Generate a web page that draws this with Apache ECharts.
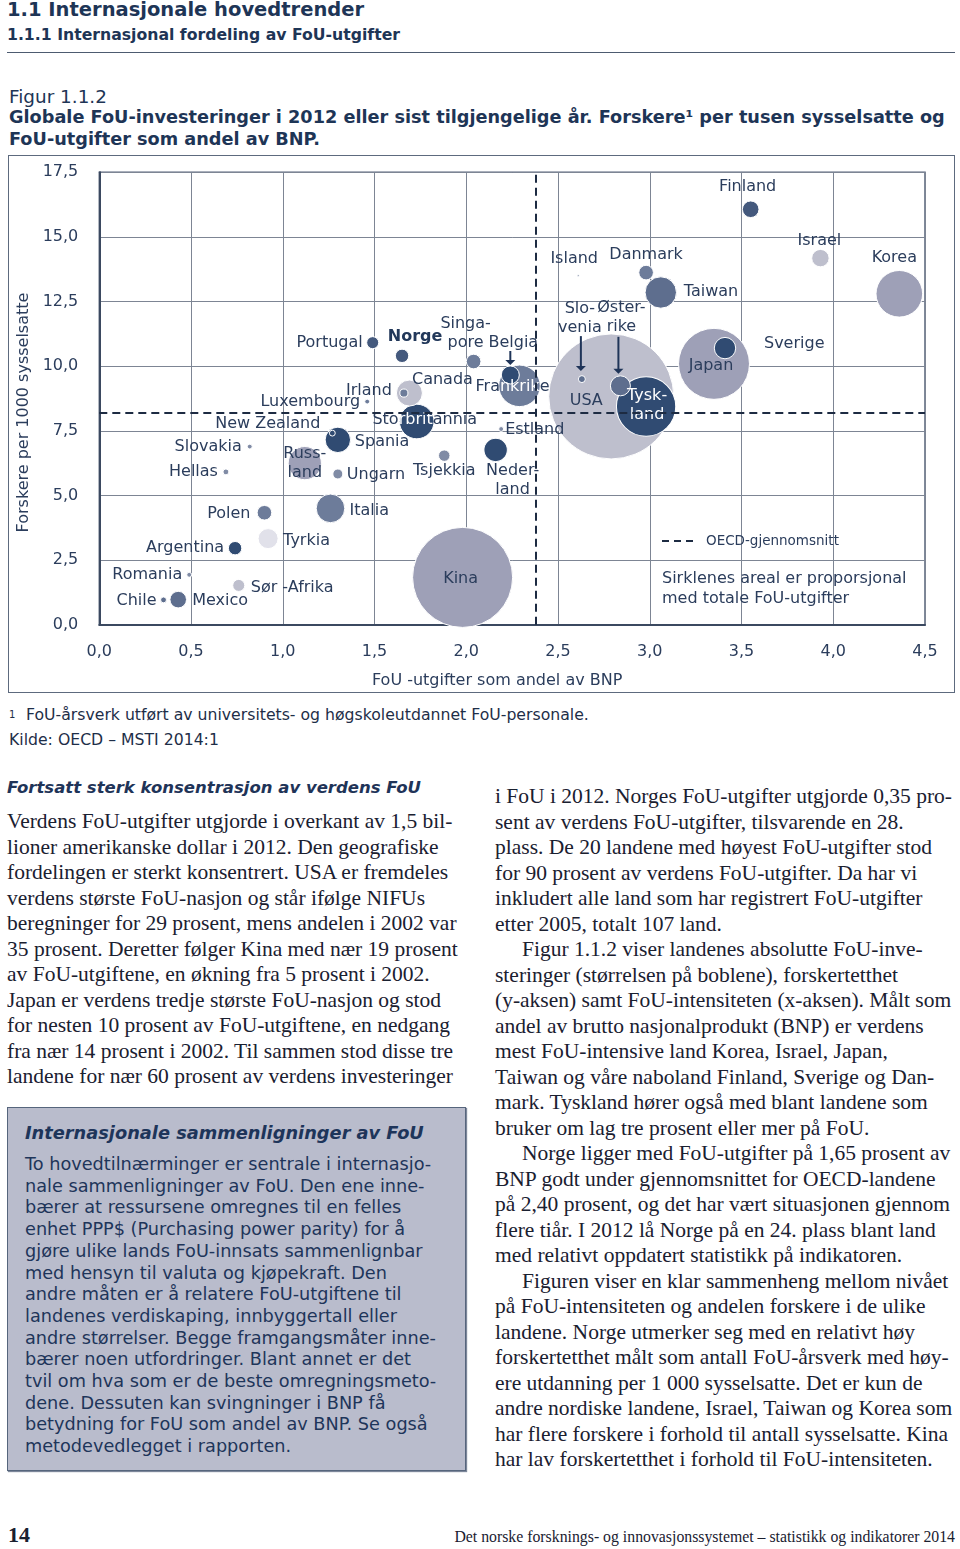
<!DOCTYPE html>
<html><head><meta charset="utf-8">
<script src="https://cdn.jsdelivr.net/npm/echarts@6/dist/echarts.min.js"></script>
<style>
html,body{margin:0;padding:0;background:#fff;}
body{width:960px;height:1549px;position:relative;overflow:hidden;}
.t{position:absolute;white-space:nowrap;}
.sans{font-family:"DejaVu Sans",sans-serif;}
.serif{font-family:"Liberation Serif",serif;}
.col div{white-space:nowrap;}
</style></head><body>

<div class="t sans" style="left:7px;top:-3px;font-weight:bold;font-size:19.5px;line-height:26px;color:#1e3556;">1.1 Internasjonale hovedtrender</div>
<div class="t sans" style="left:7px;top:24px;font-weight:bold;font-size:15.7px;line-height:22px;color:#1e3556;">1.1.1 Internasjonal fordeling av FoU-utgifter</div>
<div style="position:absolute;left:7px;top:52px;width:948px;height:0;border-top:1.5px solid #4d5b70;"></div>

<div class="t sans" style="left:9px;top:85px;font-size:18.4px;line-height:24px;color:#1e3556;">Figur 1.1.2</div>
<div class="t sans" style="left:9px;top:106px;font-weight:bold;font-size:17.7px;line-height:22px;color:#1e3556;">Globale FoU-investeringer i 2012 eller sist tilgjengelige år. Forskere¹ per tusen sysselsatte og<br>FoU-utgifter som andel av BNP.</div>

<div style="position:absolute;left:8px;top:155px;width:945px;height:536px;border:1.5px solid #5d6a7e;"></div>
<div id="chart" style="position:absolute;left:0;top:155px;width:960px;height:545px;"></div>

<div class="t sans" style="left:9px;top:704px;font-size:15.7px;line-height:22px;color:#1e2e48;"><span style="font-size:10px;vertical-align:5px;">1</span><span style="position:absolute;left:17px;">FoU-årsverk utført av universitets- og høgskoleutdannet FoU-personale.</span></div>
<div class="t sans" style="left:9px;top:729px;font-size:15.7px;line-height:22px;color:#1e2e48;">Kilde: OECD – MSTI 2014:1</div>

<div class="t sans" style="left:7px;top:776px;font-weight:bold;font-style:italic;font-size:16.5px;line-height:24px;color:#1f3458;">Fortsatt sterk konsentrasjon av verdens FoU</div>

<div class="t serif col" style="left:7px;top:809px;font-size:21.5px;line-height:25.5px;color:#1a2030;">
<div>Verdens FoU-utgifter utgjorde i overkant av 1,5 bil-</div>
<div>lioner amerikanske dollar i 2012. Den geografiske</div>
<div>fordelingen er sterkt konsentrert. USA er fremdeles</div>
<div>verdens største FoU-nasjon og står ifølge NIFUs</div>
<div>beregninger for 29 prosent, mens andelen i 2002 var</div>
<div>35 prosent. Deretter følger Kina med nær 19 prosent</div>
<div>av FoU-utgiftene, en økning fra 5 prosent i 2002.</div>
<div>Japan er verdens tredje største FoU-nasjon og stod</div>
<div>for nesten 10 prosent av FoU-utgiftene, en nedgang</div>
<div>fra nær 14 prosent i 2002. Til sammen stod disse tre</div>
<div>landene for nær 60 prosent av verdens investeringer</div>
</div>

<div style="position:absolute;left:7px;top:1107px;width:457px;height:362px;background:#b9bccc;border:1px solid #56657c;box-shadow:1px 1px 1px #7d879a;"></div>
<div class="t sans" style="left:25px;top:1121px;font-weight:bold;font-style:italic;font-size:17.8px;line-height:24px;color:#1e355a;">Internasjonale sammenligninger av FoU</div>
<div class="t sans col" style="left:25px;top:1154px;font-size:17.7px;line-height:21.7px;color:#1e355a;">
<div>To hovedtilnærminger er sentrale i internasjo-</div>
<div>nale sammenligninger av FoU. Den ene inne-</div>
<div>bærer at ressursene omregnes til en felles</div>
<div>enhet PPP$ (Purchasing power parity) for å</div>
<div>gjøre ulike lands FoU-innsats sammenlignbar</div>
<div>med hensyn til valuta og kjøpekraft. Den</div>
<div>andre måten er å relatere FoU-utgiftene til</div>
<div>landenes verdiskaping, innbyggertall eller</div>
<div>andre størrelser. Begge framgangsmåter inne-</div>
<div>bærer noen utfordringer. Blant annet er det</div>
<div>tvil om hva som er de beste omregningsmeto-</div>
<div>dene. Dessuten kan svingninger i BNP få</div>
<div>betydning for FoU som andel av BNP. Se også</div>
<div>metodevedlegget i rapporten.</div>
</div>

<div class="t serif col" style="left:495px;top:784px;font-size:21.5px;line-height:25.5px;color:#1a2030;">
<div>i FoU i 2012. Norges FoU-utgifter utgjorde 0,35 pro-</div>
<div>sent av verdens FoU-utgifter, tilsvarende en 28.</div>
<div>plass. De 20 landene med høyest FoU-utgifter stod</div>
<div>for 90 prosent av verdens FoU-utgifter. Da har vi</div>
<div>inkludert alle land som har registrert FoU-utgifter</div>
<div>etter 2005, totalt 107 land.</div>
<div style="padding-left:27px;">Figur 1.1.2 viser landenes absolutte FoU-inve-</div>
<div>steringer (størrelsen på boblene), forskertetthet</div>
<div>(y-aksen) samt FoU-intensiteten (x-aksen). Målt som</div>
<div>andel av brutto nasjonalprodukt (BNP) er verdens</div>
<div>mest FoU-intensive land Korea, Israel, Japan,</div>
<div>Taiwan og våre naboland Finland, Sverige og Dan-</div>
<div>mark. Tyskland hører også med blant landene som</div>
<div>bruker om lag tre prosent eller mer på FoU.</div>
<div style="padding-left:27px;">Norge ligger med FoU-utgifter på 1,65 prosent av</div>
<div>BNP godt under gjennomsnittet for OECD-landene</div>
<div>på 2,40 prosent, og det har vært situasjonen gjennom</div>
<div>flere tiår. I 2012 lå Norge på en 24. plass blant land</div>
<div>med relativt oppdatert statistikk på indikatoren.</div>
<div style="padding-left:27px;">Figuren viser en klar sammenheng mellom nivået</div>
<div>på FoU-intensiteten og andelen forskere i de ulike</div>
<div>landene. Norge utmerker seg med en relativt høy</div>
<div>forskertetthet målt som antall FoU-årsverk med høy-</div>
<div>ere utdanning per 1 000 sysselsatte. Det er kun de</div>
<div>andre nordiske landene, Israel, Taiwan og Korea som</div>
<div>har flere forskere i forhold til antall sysselsatte. Kina</div>
<div>har lav forskertetthet i forhold til FoU-intensiteten.</div>
</div>

<div class="t serif" style="left:8px;top:1520px;font-weight:bold;font-size:22px;line-height:30px;color:#1a2030;">14</div>
<div class="t serif" style="right:5px;top:1526px;font-size:15.8px;line-height:22px;color:#1a2030;">Det norske forsknings- og innovasjonssystemet – statistikk og indikatorer 2014</div>

<script>
// ---- Data ----
const countries = ['Finland','Israel','Korea','Island','Danmark','Taiwan','Slovenia','Østerrike','Sverige','Japan','USA','Tyskland','Portugal','Norge','Singapore','Belgia','Frankrike','Canada','Irland','Luxembourg','Storbritannia','New Zealand','Spania','Slovakia','Hellas','Russland','Ungarn','Tsjekkia','Estland','Nederland','Italia','Polen','Tyrkia','Argentina','Romania','Sør-Afrika','Chile','Mexico','Kina'];
// FoU-utgifter som andel av BNP (%)
const fouShareBNP = [3.55,3.93,4.36,2.61,2.98,3.06,2.63,2.84,3.41,3.35,2.79,2.98,1.49,1.65,2.04,2.24,2.29,1.69,1.66,1.46,1.73,1.27,1.30,0.82,0.69,1.12,1.30,1.88,2.19,2.16,1.26,0.90,0.92,0.74,0.49,0.76,0.35,0.43,1.98];
// Forskere per 1000 sysselsatte
const researchersPer1000 = [16.07,14.18,12.80,13.50,13.62,12.85,9.50,9.24,10.70,10.09,8.83,8.44,10.91,10.40,10.18,9.66,9.24,8.96,8.96,8.63,7.86,7.41,7.15,6.89,5.91,6.25,5.83,6.54,7.57,6.76,4.50,4.33,3.33,2.96,1.93,1.52,0.96,0.97,1.83];
// Totale FoU-utgifter (mrd. PPP$), bubble area
const fouSpendBn = [8.0,8.8,63,0.12,6.2,28.6,1.4,11.6,13.3,146,453,102,4.2,5.2,6.2,9.4,50,19.6,1.9,0.7,34.7,1.0,18.7,0.7,1.0,32,2.9,3.8,0.7,15.9,23.7,6.2,11.6,5.2,0.7,4.2,1.0,8.0,290];
// Label texts
const labelText = ['Finland','Israel','Korea','Island','Danmark','Taiwan','Slo-\nvenia','Øster-\nrike','Sverige','Japan','USA','Tysk-\nland','Portugal','Norge','Singa-\npore','Belgia','{d|Fra}{w|nkrik}{d|e}','Canada','Irland','Luxembourg','{d|Sto}{w|rbrit}{d|annia}','New Zealand','Spania','Slovakia','Hellas','Russ-\nland','Ungarn','Tsjekkia','Estland','Neder-\nland','Italia','Polen','Tyrkia','Argentina','Romania','Sør -Afrika','Chile','Mexico','Kina'];
const oecdAvgBNP = 2.38;
const oecdAvgResearchers = 8.18;
const xAxisTitle = 'FoU -utgifter som andel av BNP';
const yAxisTitle = 'Forskere per 1000 sysselsatte';
const legendLine = 'OECD-gjennomsnitt';
const noteLines = ['Sirklenes areal er proporsjonal', 'med totale FoU-utgifter'];

// ---- Styles (kept apart from the data) ----
const shades = {navy:'#304b72', dark:'#44597d', slate2:'#5e6e8e', slate:'#6d7c9a', steel:'#808ba5', gray:'#9ea0b7', light:'#bebfcd', pale:'#e1e1ea'};
const shadeOf = {'Finland':'dark','Israel':'light','Korea':'gray','Island':'slate','Danmark':'slate','Taiwan':'slate2','Slovenia':'slate2','Østerrike':'slate2','Sverige':'navy','Japan':'gray','USA':'light','Tyskland':'navy','Portugal':'dark','Norge':'dark','Singapore':'slate','Belgia':'navy','Frankrike':'slate','Canada':'light','Irland':'slate','Luxembourg':'slate','Storbritannia':'navy','New Zealand':'navy','Spania':'navy','Slovakia':'steel','Hellas':'steel','Russland':'gray','Ungarn':'steel','Tsjekkia':'steel','Estland':'steel','Nederland':'navy','Italia':'slate','Polen':'slate','Tyrkia':'pale','Argentina':'navy','Romania':'steel','Sør-Afrika':'light','Chile':'slate2','Mexico':'slate2','Kina':'gray'};
// label offset (px from bubble centre) and alignment
const labelLayoutOf = {'Finland':[-3,-22,'center'],'Israel':[-1,-17,'center'],'Korea':[-5,-36,'center'],'Island':[-4,-17,'center'],'Danmark':[0,-18,'center'],'Taiwan':[23,-1,'left'],'Slovenia':[-2,-61,'center'],'Østerrike':[1,-68,'center'],'Sverige':[39,-4,'left'],'Japan':[-3,2,'center'],'USA':[-25,4,'center'],'Tyskland':[1,-1,'center'],'Portugal':[-10,0,'right'],'Norge':[13,-19,'center'],'Singapore':[-8,-28,'center'],'Belgia':[3,-32,'center'],'Frankrike':[-7,1,'center'],'Canada':[33,-13,'center'],'Irland':[-12,-2,'right'],'Luxembourg':[-7,0,'right'],'Storbritannia':[8,-2,'center'],'New Zealand':[-12,-9,'right'],'Spania':[17,2,'left'],'Slovakia':[-8,0,'right'],'Hellas':[-8,0,'right'],'Russland':[0,0,'center'],'Ungarn':[9,1,'left'],'Tsjekkia':[0,15,'center'],'Estland':[4,1,'left'],'Nederland':[17,30,'center'],'Italia':[19,2,'left'],'Polen':[-14,1,'right'],'Tyrkia':[15,2,'left'],'Argentina':[-11,0,'right'],'Romania':[-7,0,'right'],'Sør-Afrika':[12,2,'left'],'Chile':[-7,1,'right'],'Mexico':[14,1,'left'],'Kina':[-2,1,'center']};
// arrows: [country, dx, startDy, endDy]
const arrows = [['Belgia',0,-24,-10],['Slovenia',-1,-43,-8],['Østerrike',-2,-49,-12]];
const TXT = '#2b3d5c';
const FONT = 'DejaVu Sans';
const K = 2.937; // radius px per sqrt(mrd)

const order = countries.map((c,i)=>i).sort((a,b)=>fouSpendBn[b]-fouSpendBn[a]);
const seriesData = order.map(i=>{
  const name = countries[i];
  const L = labelLayoutOf[name];
  const lbl = {show:true, position:'inside', align:L[2], verticalAlign:'middle',
    formatter: labelText[i], color: name==='Tyskland' ? '#ffffff' : TXT,
    fontFamily: FONT, fontSize:16, lineHeight:19,
    rich:{d:{color:TXT,fontFamily:FONT,fontSize:16}, w:{color:'#ffffff',fontFamily:FONT,fontSize:16}}};
  if (name==='Norge') { lbl.fontWeight='bold'; lbl.color='#22385a'; }
  return {name, value:[fouShareBNP[i], researchersPer1000[i], fouSpendBn[i]],
    symbolSize: 2*K*Math.sqrt(fouSpendBn[i]),
    itemStyle:{color: shades[shadeOf[name]], borderColor:'#ffffff', borderWidth:1, opacity:1},
    label: lbl};
});

const fmt = v => v.toFixed(1).replace('.', ',');
const chart = echarts.init(document.getElementById('chart'), null, {renderer:'canvas'});
const option = {
  animation:false,
  backgroundColor:'transparent',
  grid:{left:99.3, top:17.3, width:825.7, height:452.4, show:true, borderColor:'#56637a', borderWidth:1.5, containLabel:false},
  xAxis:{type:'value', min:0, max:4.5, interval:0.5,
    name:xAxisTitle, nameLocation:'middle', nameGap:48,
    nameTextStyle:{fontFamily:FONT, fontSize:16, color:TXT, padding:[0,30,0,0]},
    axisLine:{show:true, onZero:false, lineStyle:{color:'#3b4960', width:2}},
    axisTick:{show:false},
    axisLabel:{formatter:fmt, margin:19, fontFamily:FONT, fontSize:16, color:TXT},
    splitLine:{show:true, lineStyle:{color:'#7d8594', width:1}}},
  yAxis:{type:'value', min:0, max:17.5, interval:2.5,
    name:yAxisTitle, nameLocation:'middle', nameGap:60,
    nameTextStyle:{fontFamily:FONT, fontSize:16, color:TXT, padding:[0,28,0,0]},
    axisLine:{show:true, onZero:false, lineStyle:{color:'#3b4960', width:2}},
    axisTick:{show:false},
    axisLabel:{formatter:fmt, margin:21, fontFamily:FONT, fontSize:16, color:TXT},
    splitLine:{show:true, lineStyle:{color:'#7d8594', width:1}}},
  series:[{type:'scatter', symbol:'circle', data:seriesData,
    labelLayout: function (params) {
      const L = labelLayoutOf[seriesData[params.dataIndex].name];
      return {dx:L[0], dy:L[1], hideOverlap:false, moveOverlap:null};
    },
    markLine:{silent:true, symbol:'none', z:10, label:{show:false},
      lineStyle:{color:'#1d2b42', width:2, type:[8,5]},
      data:[{xAxis:oecdAvgBNP},{yAxis:oecdAvgResearchers}]}}]
};
chart.setOption(option);

const gfx = [];
arrows.forEach(a=>{
  const i = countries.indexOf(a[0]);
  const p = chart.convertToPixel({seriesIndex:0}, [fouShareBNP[i], researchersPer1000[i]]);
  const x = p[0]+a[1], y1 = p[1]+a[2], y2 = p[1]+a[3];
  gfx.push({type:'line', z:100, shape:{x1:x,y1:y1,x2:x,y2:y2-4}, style:{stroke:'#1f3458', lineWidth:2}});
  gfx.push({type:'polygon', z:100, shape:{points:[[x-5,y2-5],[x+5,y2-5],[x,y2]]}, style:{fill:'#1f3458'}});
});
gfx.push({type:'line', z:100, shape:{x1:662,y1:386,x2:698,y2:386}, style:{stroke:'#1d2b42', lineWidth:2, lineDash:[7,5]}});
gfx.push({type:'text', z:100, x:706, y:386, style:{text:legendLine, fontFamily:FONT, fontSize:13.5, fill:TXT, verticalAlign:'middle'}});
gfx.push({type:'text', z:100, x:662, y:424, style:{text:noteLines[0], fontFamily:FONT, fontSize:16, fill:TXT, verticalAlign:'middle'}});
gfx.push({type:'text', z:100, x:662, y:444, style:{text:noteLines[1], fontFamily:FONT, fontSize:16, fill:TXT, verticalAlign:'middle'}});
chart.setOption({graphic:gfx});
</script>
</body></html>
